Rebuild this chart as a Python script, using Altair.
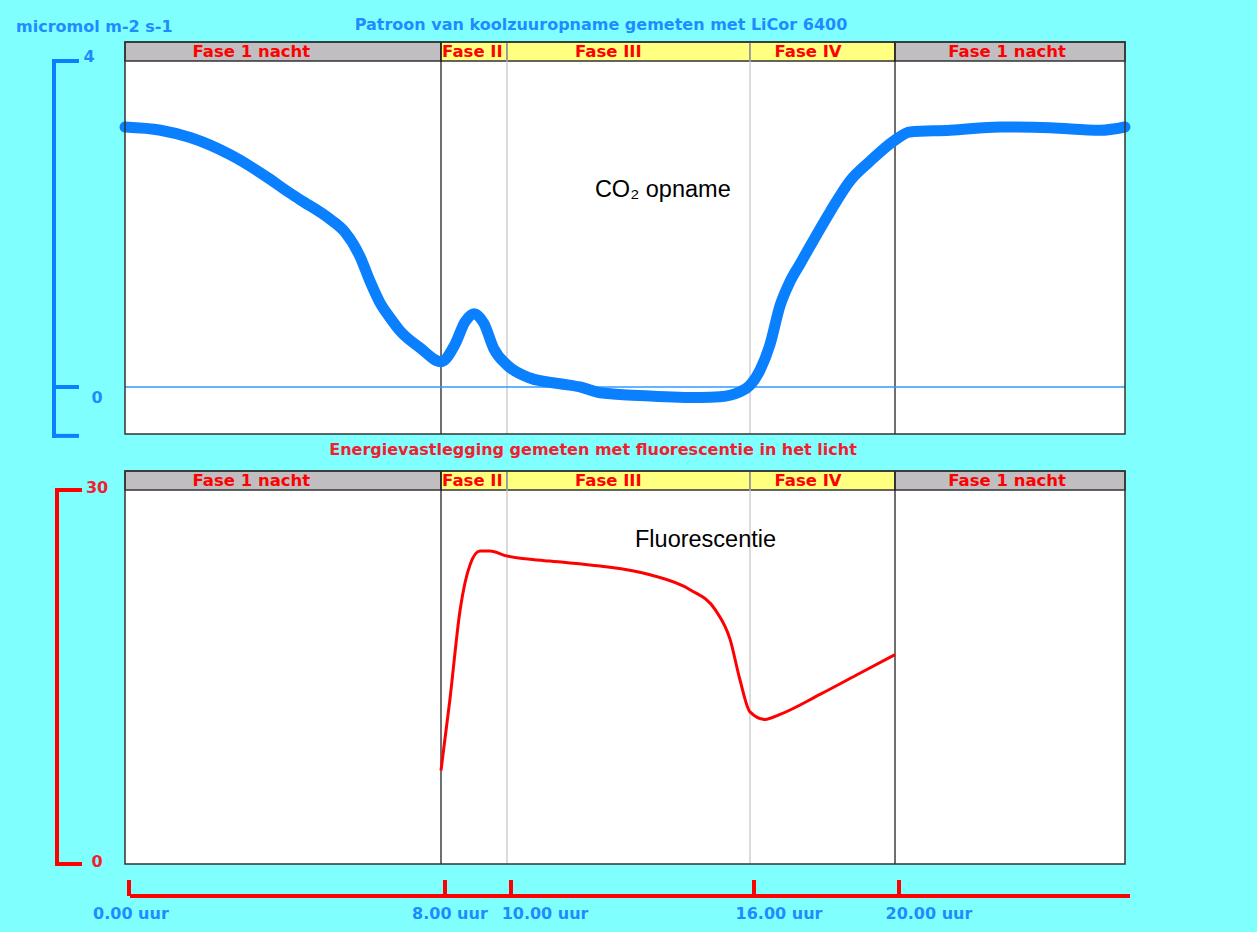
import altair as alt
import pandas as pd

# ---------------- data ----------------
co2_hours = [0.0, 0.9, 1.65, 2.66, 3.67, 4.05, 4.43, 5.19, 5.57, 5.95, 6.2, 6.46, 6.71, 6.96,
             7.47, 8.0, 8.42, 8.73, 9.0, 9.3, 9.6, 10.0, 10.57, 11.31, 11.8, 12.3, 13.53,
             14.77, 15.26, 15.75, 16.0, 16.28, 16.55, 16.83, 17.1, 17.38, 17.66, 18.21,
             18.76, 19.31, 20.0, 20.26, 20.96, 21.83, 22.7, 23.57, 24.0]
co2_values = [3.19, 3.15, 3.06, 2.85, 2.55, 2.42, 2.30, 2.06, 1.90, 1.60, 1.30, 1.03, 0.85, 0.69,
              0.48, 0.31, 0.52, 0.80, 0.90, 0.78, 0.47, 0.27, 0.11, 0.04, 0.0, -0.07, -0.11,
              -0.13, -0.12, -0.06, 0.02, 0.21, 0.52, 1.00, 1.29, 1.51, 1.73, 2.15,
              2.53, 2.77, 3.03, 3.13, 3.15, 3.19, 3.18, 3.15, 3.19]

fl_hours = [8.0, 8.27, 8.58, 8.88, 9.18, 9.48, 10.0, 11.06, 12.3, 13.53, 14.52, 15.14, 15.51,
            15.75, 16.0, 16.41, 16.83, 17.93, 19.03, 20.0]
fl_values = [7.5, 13.2, 20.4, 24.0, 25.1, 25.1, 24.7, 24.3, 23.9, 23.2, 22.0, 20.4, 18.0,
             14.8, 12.2, 11.6, 12.0, 13.6, 15.3, 16.8]

phase_start = [0, 8, 10, 16, 20]
phase_end = [8, 10, 16, 20, 24]
phase_names = ["Fase 1 nacht", "Fase II", "Fase III", "Fase IV", "Fase 1 nacht"]
phase_label_hours = [3.2, 8.95, 12.5, 17.6, 21.95]
phase_kind = ["nacht", "licht", "licht", "licht", "nacht"]

divider_hours = [8, 10, 16, 20]
divider_kind = ["hoofd", "sub", "sub", "hoofd"]

tick_hours = [0, 8, 10, 16, 20]
tick_labels = ["0.00 uur", "8.00 uur", "10.00 uur", "16.00 uur", "20.00 uur"]
tick_label_hours = [0.15, 8.27, 10.94, 16.8, 20.59]

top_axis_extent = [-0.6, 4]
top_axis_ticks = [4, 0, -0.6]
bottom_axis_ticks = [30, 0]

# ---------------- styling ----------------
BG = "#80FFFF"
BLUE = "#0A80FF"
BLUE_TXT = "#1E8CFF"
RED = "#FF0000"
RED_TXT = "#F02030"
BORDER = "#333333"
FONT = "Liberation Sans"
BFONT = "DejaVu Sans"

X = alt.Scale(domain=[0, 8, 10, 16, 20, 24], range=[0, 316, 382, 625, 770, 1000], nice=False, zero=False)
Y_TOP = alt.Scale(domain=[-0.577, 4], range=[373, 0], nice=False, zero=False)
Y_BOT = alt.Scale(domain=[0, 30], range=[803, 429], nice=False, zero=False)


def xq(field):
    return alt.X(field, type="quantitative", scale=X, axis=None)


co2 = pd.DataFrame({"h": co2_hours, "v": co2_values})
fl = pd.DataFrame({"h": fl_hours, "v": fl_values})
phases = pd.DataFrame({"start": phase_start, "end": phase_end, "name": phase_names,
                       "lh": phase_label_hours, "kind": phase_kind})
dividers = pd.DataFrame({"h": divider_hours, "kind": divider_kind})
full = pd.DataFrame({"a": [phase_start[0]], "b": [phase_end[-1]]})

phase_fill = alt.Fill("kind:N", scale=alt.Scale(domain=["nacht", "licht"], range=["#C0BEC0", "#FFFF80"]), legend=None)
div_stroke = alt.Stroke("kind:N", scale=alt.Scale(domain=["hoofd", "sub"], range=["#222222", "#C8C8C8"]), legend=None)


def panel(top_px, bar_px, bottom_px):
    bg = alt.Chart(full).mark_rect(fill="white").encode(
        x=xq("a"), x2="b:Q", y=alt.value(top_px), y2=alt.value(bottom_px))
    bars = alt.Chart(phases).mark_rect(stroke=BORDER, strokeWidth=1.5).encode(
        x=xq("start"), x2="end:Q", y=alt.value(top_px), y2=alt.value(bar_px), fill=phase_fill)
    divs = alt.Chart(dividers).mark_rule(strokeWidth=1.3).encode(
        x=xq("h"), y=alt.value(top_px), y2=alt.value(bottom_px), stroke=div_stroke)
    labels = alt.Chart(phases).mark_text(color=RED, font=BFONT, fontSize=16.5, fontWeight="bold",
                                          baseline="middle").encode(
        x=xq("lh"), y=alt.value((top_px + bar_px) / 2 + 0.5), text="name:N")
    border = alt.Chart(full).mark_rect(fillOpacity=0, stroke=BORDER, strokeWidth=1.5).encode(
        x=xq("a"), x2="b:Q", y=alt.value(top_px), y2=alt.value(bottom_px))
    return [bg, bars, divs, labels], border


top_under, top_border = panel(-19, 0, 373)
bot_under, bot_border = panel(410, 429, 803)

zero_line = alt.Chart(full).mark_rule(color="#3399FF", strokeWidth=1.5).encode(
    x=xq("a"), x2="b:Q", y=alt.Y("z:Q", scale=Y_TOP, axis=None)).transform_calculate(z="0")

co2_line = alt.Chart(co2).mark_line(color=BLUE, strokeWidth=11, interpolate="monotone",
                                    strokeCap="round", strokeJoin="round").encode(
    x=xq("h"), y=alt.Y("v:Q", scale=Y_TOP, axis=None))

fl_line = alt.Chart(fl).mark_line(color=RED, strokeWidth=3, interpolate="monotone").encode(
    x=xq("h"), y=alt.Y("v:Q", scale=Y_BOT, axis=None))

co2_note = alt.Chart(pd.DataFrame({"h": [12.17], "v": [2.42], "t": ["CO₂ opname"]})).mark_text(
    align="left", baseline="middle", font=FONT, fontSize=23.5, color="black").encode(
    x=xq("h"), y=alt.Y("v:Q", scale=Y_TOP, axis=None), text="t:N")
fl_note = alt.Chart(pd.DataFrame({"h": [13.16], "v": [26.0], "t": ["Fluorescentie"]})).mark_text(
    align="left", baseline="middle", font=FONT, fontSize=23.5, color="black").encode(
    x=xq("h"), y=alt.Y("v:Q", scale=Y_BOT, axis=None), text="t:N")

# left brackets
ext_top = pd.DataFrame({"a": [top_axis_extent[1]], "b": [top_axis_extent[0]]})
blue_vert = alt.Chart(ext_top).mark_rule(color=BLUE, strokeWidth=4, strokeCap="square").encode(
    x=alt.value(-71), y=alt.Y("a:Q", scale=Y_TOP, axis=None), y2="b:Q")
blue_ticks = alt.Chart(pd.DataFrame({"v": top_axis_ticks})).mark_rule(
    color=BLUE, strokeWidth=4, strokeCap="square").encode(
    x=alt.value(-71), x2=alt.value(-48), y=alt.Y("v:Q", scale=Y_TOP, axis=None))
blue_lab4 = alt.Chart(pd.DataFrame({"v": [4], "t": ["4"]})).mark_text(
    color=BLUE_TXT, font=BFONT, fontSize=16, fontWeight="bold", dy=-4).encode(
    x=alt.value(-36), y=alt.Y("v:Q", scale=Y_TOP, axis=None), text="t:N")
blue_lab0 = alt.Chart(pd.DataFrame({"v": [0], "t": ["0"]})).mark_text(
    color=BLUE_TXT, font=BFONT, fontSize=16, fontWeight="bold", dy=11).encode(
    x=alt.value(-28), y=alt.Y("v:Q", scale=Y_TOP, axis=None), text="t:N")

ext_bot = pd.DataFrame({"a": [bottom_axis_ticks[0]], "b": [bottom_axis_ticks[1]]})
red_vert = alt.Chart(ext_bot).mark_rule(color=RED, strokeWidth=4, strokeCap="square").encode(
    x=alt.value(-68), y=alt.Y("a:Q", scale=Y_BOT, axis=None), y2="b:Q")
red_ticks = alt.Chart(pd.DataFrame({"v": bottom_axis_ticks})).mark_rule(
    color=RED, strokeWidth=4, strokeCap="square").encode(
    x=alt.value(-68), x2=alt.value(-45), y=alt.Y("v:Q", scale=Y_BOT, axis=None))
red_labs = alt.Chart(pd.DataFrame({"v": bottom_axis_ticks, "t": [str(v) for v in bottom_axis_ticks]})).mark_text(
    color=RED_TXT, font=BFONT, fontSize=16, fontWeight="bold", dy=-2).encode(
    x=alt.value(-28), y=alt.Y("v:Q", scale=Y_BOT, axis=None), text="t:N")

# bottom time axis
axis_line = alt.Chart(full).mark_rule(color=RED, strokeWidth=4, xOffset=5, x2Offset=5).encode(
    x=xq("a"), x2="b:Q", y=alt.value(835))
ticks_df = pd.DataFrame({"h": tick_hours, "lh": tick_label_hours, "t": tick_labels})
axis_ticks = alt.Chart(ticks_df).mark_rule(color=RED, strokeWidth=4, xOffset=4).encode(
    x=xq("h"), y=alt.value(819), y2=alt.value(835))
axis_labels = alt.Chart(ticks_df).mark_text(color=BLUE_TXT, font=BFONT, fontSize=16,
                                            fontWeight="bold", baseline="middle").encode(
    x=xq("lh"), y=alt.value(853), text="t:N")

# titles
def txt(s, x, y, color, align="left"):
    return alt.Chart(pd.DataFrame({"t": [s]})).mark_text(
        color=color, font=BFONT, fontSize=16, fontWeight="bold", align=align, baseline="middle").encode(
        x=alt.value(x), y=alt.value(y), text="t:N")

title_unit = txt("micromol m-2 s-1", -109, -34, BLUE_TXT)
title_top = txt("Patroon van koolzuuropname gemeten met LiCor 6400", 476, -36, BLUE_TXT, "center")
title_bot = txt("Energievastlegging gemeten met fluorescentie in het licht", 468, 389, RED_TXT, "center")

layers = (top_under + [zero_line, co2_line, co2_note, top_border]
          + bot_under + [fl_line, fl_note, bot_border]
          + [blue_vert, blue_ticks, blue_lab4, blue_lab0, red_vert, red_ticks, red_labs,
             axis_line, axis_ticks, axis_labels, title_unit, title_top, title_bot])

chart = alt.layer(*layers).resolve_scale(y="independent").properties(
    width=1000, height=803,
    padding={"left": 125, "top": 61, "right": 132, "bottom": 68},
    autosize=alt.AutoSizeParams(type="none"),
).configure(background=BG).configure_view(stroke="transparent")

chart.save("out.html", embed_options={"renderer": "svg", "actions": False})
